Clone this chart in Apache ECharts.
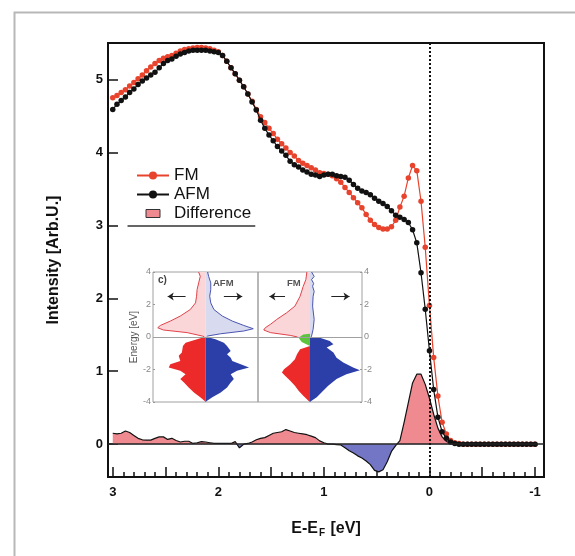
<!DOCTYPE html>
<html>
<head>
<meta charset="utf-8">
<script src="https://cdn.jsdelivr.net/npm/echarts@6/dist/echarts.min.js"></script>
<style>
  html, body { margin: 0; background: #fff; }
  #chart { width: 575px; height: 556px; }
</style>
</head>
<body>
<div id="chart"></div>
<script>
const FONT = '"Liberation Sans", Arial, sans-serif';

// main panel: E - EF [eV] (reversed axis) and intensities
const energies = [
  3.00, 2.96, 2.92, 2.88, 2.84, 2.80, 2.76, 2.72, 2.68, 2.64,
  2.60, 2.56, 2.52, 2.48, 2.44, 2.40, 2.36, 2.32, 2.28, 2.24,
  2.20, 2.16, 2.12, 2.08, 2.04, 2.00, 1.96, 1.92, 1.88, 1.84,
  1.80, 1.76, 1.72, 1.68, 1.64, 1.60, 1.56, 1.52, 1.48, 1.44,
  1.40, 1.36, 1.32, 1.28, 1.24, 1.20, 1.16, 1.12, 1.08, 1.04,
  1.00, 0.96, 0.92, 0.88, 0.84, 0.80, 0.76, 0.72, 0.68, 0.64,
  0.60, 0.56, 0.52, 0.48, 0.44, 0.40, 0.36, 0.32, 0.28, 0.24,
  0.20, 0.16, 0.12, 0.08, 0.04, 0.00, -0.04, -0.08, -0.12, -0.16,
  -0.20, -0.24, -0.28, -0.32, -0.36, -0.40, -0.44, -0.48, -0.52, -0.56,
  -0.60, -0.64, -0.68, -0.72, -0.76, -0.80, -0.84, -0.88, -0.92, -0.96,
  -1.00,
];

const fmValues = [
  4.75, 4.78, 4.82, 4.86, 4.91, 4.96, 5.01, 5.06, 5.12, 5.17,
  5.22, 5.26, 5.29, 5.31, 5.33, 5.36, 5.39, 5.41, 5.42, 5.43,
  5.44, 5.44, 5.43, 5.42, 5.40, 5.38, 5.33, 5.25, 5.16, 5.08,
  4.99, 4.90, 4.80, 4.70, 4.59, 4.49, 4.41, 4.33, 4.26, 4.18,
  4.12, 4.06, 4.00, 3.95, 3.89, 3.85, 3.82, 3.79, 3.76, 3.72,
  3.71, 3.70, 3.68, 3.64, 3.59, 3.52, 3.45, 3.38, 3.31, 3.24,
  3.15, 3.07, 3.01, 2.97, 2.95, 2.95, 2.98, 3.07, 3.25, 3.40,
  3.65, 3.82, 3.75, 3.33, 2.70, 1.90, 1.19, 0.66, 0.30, 0.14,
  0.05, 0.02, 0.01, 0, 0, 0, 0, 0, 0, 0,
  0, 0, 0, 0, 0, 0, 0, 0, 0, 0,
  0,
];

const afmValues = [
  4.59, 4.66, 4.71, 4.76, 4.82, 4.87, 4.93, 4.98, 5.02, 5.06,
  5.10, 5.16, 5.22, 5.26, 5.28, 5.32, 5.35, 5.37, 5.39, 5.40,
  5.40, 5.40, 5.40, 5.39, 5.38, 5.37, 5.33, 5.25, 5.16, 5.08,
  4.99, 4.90, 4.80, 4.69, 4.58, 4.44, 4.33, 4.24, 4.16, 4.08,
  4.02, 3.96, 3.88, 3.83, 3.80, 3.76, 3.73, 3.70, 3.69, 3.67,
  3.69, 3.70, 3.70, 3.68, 3.67, 3.66, 3.62, 3.56, 3.51, 3.47,
  3.45, 3.42, 3.37, 3.33, 3.30, 3.26, 3.20, 3.14, 3.11, 3.08,
  3.04, 2.94, 2.76, 2.35, 1.85, 1.28, 0.75, 0.37, 0.17, 0.08,
  0.03, 0.01, 0, 0, 0, 0, 0, 0, 0, 0,
  0, 0, 0, 0, 0, 0, 0, 0, 0, 0,
  0,
];

const diffValues = [
  0.15, 0.14, 0.15, 0.18, 0.16, 0.12, 0.08, 0.06, 0.055, 0.055,
  0.08, 0.10, 0.10, 0.065, 0.08, 0.05, 0.03, 0.04, 0.04, 0.01,
  0.02, 0.035, 0.03, 0.02, 0.01, 0.01, 0.01, 0.01, 0.01, 0.035,
  -0.05, 0.0, 0.01, 0.03, 0.06, 0.08, 0.09, 0.12, 0.15, 0.16,
  0.17, 0.20, 0.18, 0.16, 0.15, 0.14, 0.13, 0.11, 0.09, 0.045,
  0.02, 0.0, 0.0, -0.005, -0.01, -0.05, -0.09, -0.12, -0.16, -0.19,
  -0.23, -0.28, -0.36, -0.38, -0.35, -0.24, -0.10, -0.02, 0.05, 0.30,
  0.57, 0.84, 0.96, 0.96, 0.82, 0.63, 0.41, 0.22, 0.10, 0.04,
  0.01, 0, 0, 0, 0, 0, 0, 0, 0, 0,
  0, 0, 0, 0, 0, 0, 0, 0, 0, 0,
  0,
];

const xLabels = [-1, 0, 1, 2, 3];
const xMajorTicks = [-1, -0.5, 0, 0.5, 1, 1.5, 2, 2.5, 3];
const xMinorTicks = [
  -1.0, -0.9, -0.8, -0.7, -0.6, -0.5, -0.4, -0.3, -0.2, -0.1,
  0.0, 0.1, 0.2, 0.3, 0.4, 0.5, 0.6, 0.7, 0.8, 0.9,
  1.0, 1.1, 1.2, 1.3, 1.4, 1.5, 1.6, 1.7, 1.8, 1.9,
  2.0, 2.1, 2.2, 2.3, 2.4, 2.5, 2.6, 2.7, 2.8, 2.9, 3.0,
];
const yTicks = [0, 1, 2, 3, 4, 5];

// inset: DOS [value, energy]; negative = spin left (red), positive = right (blue)
const afmUpRed = [[-0.13, 4.0], [-0.10, 3.73], [-0.13, 3.33], [-0.16, 2.92], [-0.17, 2.51], [-0.19, 2.10],
  [-0.29, 1.69], [-0.48, 1.29], [-0.67, 0.98], [-0.86, 0.71], [-0.91, 0.57], [-0.80, 0.43],
  [-0.35, 0.27], [-0.06, 0.06], [-0.02, 0.0]];
const afmUpBlue = [[0.04, 4.0], [0.06, 3.73], [0.10, 3.33], [0.10, 2.92], [0.08, 2.51], [0.10, 2.10],
  [0.16, 1.69], [0.32, 1.29], [0.51, 0.98], [0.73, 0.71], [0.91, 0.51], [0.73, 0.37],
  [0.29, 0.20], [0.04, 0.06], [0.02, 0.0]];
const afmDownRed = [[-0.02, 0.0], [-0.16, -0.14], [-0.38, -0.35], [-0.43, -0.55], [-0.45, -0.96],
  [-0.51, -1.16], [-0.48, -1.47], [-0.67, -1.67], [-0.70, -1.88], [-0.48, -2.08], [-0.38, -2.29],
  [-0.48, -2.59], [-0.41, -2.80], [-0.32, -3.10], [-0.22, -3.41], [-0.10, -3.71], [-0.02, -3.92], [0, -4.0]];
const afmDownBlue = [[0.03, 0.0], [0.19, -0.14], [0.35, -0.35], [0.41, -0.55], [0.48, -0.86],
  [0.41, -1.06], [0.48, -1.27], [0.51, -1.47], [0.67, -1.67], [0.83, -1.88], [0.60, -2.08],
  [0.48, -2.29], [0.54, -2.59], [0.48, -2.80], [0.41, -3.10], [0.29, -3.41], [0.13, -3.71], [0.03, -3.92], [0, -4.0]];
const fmUpRed = [[-0.06, 4.0], [-0.08, 3.53], [-0.13, 3.12], [-0.19, 2.51], [-0.29, 1.90], [-0.45, 1.49],
  [-0.64, 1.08], [-0.76, 0.78], [-0.86, 0.57], [-0.89, 0.43], [-0.76, 0.27], [-0.38, 0.10], [-0.24, 0.0]];
const fmUpBlue = [[0.03, 4.0], [0.08, 3.73], [0.03, 3.53], [0.07, 3.3], [0.05, 3.12], [0.08, 2.8],
  [0.06, 2.51], [0.05, 1.90], [0.08, 1.08], [0.06, 0.47], [0.03, 0.06], [0.02, 0.0]];
const fmGreen = [[0, 0.20], [-0.13, 0.16], [-0.22, -0.04], [-0.16, -0.31], [0, -0.55]];
const fmDownRed = [[0, -0.55], [-0.19, -0.76], [-0.25, -1.06], [-0.29, -1.37], [-0.38, -1.67],
  [-0.50, -1.98], [-0.54, -2.18], [-0.48, -2.39], [-0.38, -2.69], [-0.29, -3.0], [-0.22, -3.31],
  [-0.13, -3.61], [-0.03, -3.92], [0, -4.0]];
const fmDownBlue = [[0, 0.0], [0.19, -0.04], [0.38, -0.24], [0.45, -0.45], [0.32, -0.65], [0.45, -0.96],
  [0.51, -1.27], [0.64, -1.57], [0.83, -1.88], [0.96, -2.04], [0.70, -2.29], [0.51, -2.59],
  [0.35, -3.0], [0.22, -3.41], [0.13, -3.71], [0.03, -3.92], [0, -4.0]];

const toPairs = (values) => energies.map((e, i) => [e, values[i]]);

const dosSeries = (panel, points, fill, stroke) => ({
  type: 'custom',
  coordinateSystem: 'cartesian2d',
  xAxisIndex: panel + 2,
  yAxisIndex: panel + 1,
  silent: true,
  z: 3,
  data: [[0, 0]],
  renderItem: (params, api) => {
    const curve = points.map((p) => api.coord(p));
    const outline = [api.coord([0, points[0][1]]), ...curve, api.coord([0, points[points.length - 1][1]])];
    const children = [{ type: 'polygon', shape: { points: outline }, style: { fill: fill } }];
    if (stroke) {
      children.push({ type: 'polyline', shape: { points: curve }, style: { stroke: stroke, lineWidth: 1, fill: 'none' } });
    }
    return { type: 'group', children: children };
  },
});

const insetHelpers = (panel, arrows) => [
  {
    type: 'line', xAxisIndex: panel + 2, yAxisIndex: panel + 1, data: [], silent: true, z: 4,
    markLine: {
      silent: true, symbol: 'none', label: { show: false },
      lineStyle: { color: '#a0a0a0', width: 1, type: 'solid' },
      data: [{ yAxis: 0 }],
    },
  },
  {
    type: 'line', xAxisIndex: panel + 2, yAxisIndex: panel + 1, data: [], silent: true, z: 4,
    markLine: {
      silent: true, symbol: ['none', 'arrow'], symbolSize: 6, label: { show: false },
      lineStyle: { color: '#222', width: 1, type: 'solid' },
      data: arrows.map(([a, b]) => [{ coord: [a, 2.5] }, { coord: [b, 2.5] }]),
    },
  },
];

const insetY = (grid, position) => ({
  type: 'value', gridIndex: grid, min: -4, max: 4, interval: 2, position: position,
  axisLine: { show: false, onZero: false }, splitLine: { show: false },
  axisTick: { show: true, inside: true, length: 2, lineStyle: { color: '#999' } },
  axisLabel: { fontFamily: FONT, fontSize: 9, color: '#888', margin: 2 },
});

const chart = echarts.init(document.getElementById('chart'));
chart.setOption({
  animation: false,
  backgroundColor: '#fff',
  graphic: [
    { type: 'rect', left: 12, top: 10, shape: { width: 620, height: 600 }, style: { fill: 'none', stroke: '#b8b8b8', lineWidth: 2 }, silent: true, z: -10 },
    { type: 'text', left: 158, top: 275, style: { text: 'c)', font: `bold 10px ${FONT}`, fill: '#444' }, silent: true, z: 10 },
    { type: 'text', left: 213, top: 278, style: { text: 'AFM', font: `bold 9.5px ${FONT}`, fill: '#555' }, silent: true, z: 10 },
    { type: 'text', left: 287, top: 278, style: { text: 'FM', font: `bold 9.5px ${FONT}`, fill: '#555' }, silent: true, z: 10 },
  ],
  legend: {
    left: 131, top: 162, orient: 'vertical', itemWidth: 32, itemHeight: 10, itemGap: 2,
    selectedMode: false,
    textStyle: { fontFamily: FONT, fontSize: 17, color: '#111' },
    data: [
      { name: 'FM' },
      { name: 'AFM' },
      { name: 'Difference', icon: 'path://M0,0M32,10M9,1h14v8h-14z', itemStyle: { color: '#ef8a90', borderColor: '#333', borderWidth: 1 } },
    ],
  },
  visualMap: {
    show: false, type: 'piecewise', seriesIndex: 0, dimension: 1,
    pieces: [{ gte: -1, lt: 0, color: '#7376c4' }, { gte: 0, lte: 2, color: '#ef8a90' }],
    outOfRange: { color: '#ef8a90' },
  },
  grid: [
    { left: 108, top: 43, right: 31, bottom: 79, show: true, borderColor: '#111', borderWidth: 2 },
    { left: 153, top: 272, width: 105, height: 130, show: true, borderColor: '#a0a0a0', borderWidth: 1 },
    { left: 258, top: 272, width: 104, height: 130, show: true, borderColor: '#a0a0a0', borderWidth: 1 },
  ],
  xAxis: [
    {
      type: 'value', gridIndex: 0, min: -1.085, max: 3.045, inverse: true, position: 'bottom',
      axisLine: { show: false, onZero: false }, splitLine: { show: false },
      axisTick: { inside: true, length: 10, customValues: xMajorTicks, lineStyle: { color: '#111', width: 1.5 } },
      axisLabel: { customValues: xLabels, fontFamily: FONT, fontWeight: 'bold', fontSize: 13, color: '#111', margin: 9 },
      name: '{a|E-E}{s|F}{a| [eV]}', nameLocation: 'middle', nameGap: 43,
      nameTextStyle: {
        rich: {
          a: { fontFamily: FONT, fontSize: 16, fontWeight: 'bold', color: '#111' },
          s: { fontFamily: FONT, fontSize: 10, fontWeight: 'bold', color: '#111', padding: [8, 1, 0, 1] },
        },
      },
    },
    {
      type: 'value', gridIndex: 0, min: -1.085, max: 3.045, inverse: true, position: 'bottom',
      axisLine: { show: false, onZero: false }, splitLine: { show: false }, axisLabel: { show: false },
      axisTick: { inside: true, length: 5, customValues: xMinorTicks, lineStyle: { color: '#111', width: 1.5 } },
    },
    { type: 'value', gridIndex: 1, min: -1, max: 1, show: false },
    { type: 'value', gridIndex: 2, min: -1, max: 1, show: false },
  ],
  yAxis: [
    {
      type: 'value', gridIndex: 0, min: -0.45, max: 5.5,
      axisLine: { show: false, onZero: false }, splitLine: { show: false },
      axisTick: { inside: true, length: 10, customValues: yTicks, lineStyle: { color: '#111', width: 1.5 } },
      axisLabel: { customValues: yTicks, fontFamily: FONT, fontWeight: 'bold', fontSize: 13, color: '#111', margin: 5 },
      name: 'Intensity [Arb.U.]', nameLocation: 'middle', nameGap: 46,
      nameTextStyle: { fontFamily: FONT, fontSize: 16, fontWeight: 'bold', color: '#111' },
    },
    Object.assign(insetY(1, 'left'), {
      name: 'Energy [eV]', nameLocation: 'middle', nameGap: 12,
      nameTextStyle: { fontFamily: FONT, fontSize: 10, color: '#555' },
    }),
    insetY(2, 'right'),
  ],
  series: [
    {
      name: 'Difference', type: 'line', xAxisIndex: 0, yAxisIndex: 0,
      data: toPairs(diffValues), showSymbol: false, z: 1,
      lineStyle: { color: '#111', width: 1.2 },
      areaStyle: { opacity: 1 },
      markLine: {
        silent: true, symbol: 'none', label: { show: false },
        data: [
          { yAxis: 0, lineStyle: { color: '#222', width: 1.5, type: 'solid' } },
          { xAxis: 0, lineStyle: { color: '#111', width: 2, type: 'dotted' } },
          [{ coord: [2.86, 3], lineStyle: { color: '#333', width: 1.5, type: 'solid' } }, { coord: [1.65, 3] }],
        ],
      },
    },
    {
      name: 'FM', type: 'line', xAxisIndex: 0, yAxisIndex: 0,
      data: toPairs(fmValues), symbol: 'circle', symbolSize: 5.5, z: 3,
      itemStyle: { color: '#e8432c' }, lineStyle: { color: '#e8432c', width: 1.2 },
    },
    {
      name: 'AFM', type: 'line', xAxisIndex: 0, yAxisIndex: 0,
      data: toPairs(afmValues), symbol: 'circle', symbolSize: 5.5, z: 4,
      itemStyle: { color: '#111' }, lineStyle: { color: '#111', width: 1.2 },
    },
    dosSeries(0, afmUpRed, '#fad6d9', '#e0434a'),
    dosSeries(0, afmUpBlue, '#d8dbef', '#4a55b0'),
    dosSeries(0, afmDownRed, '#ec2a2a', null),
    dosSeries(0, afmDownBlue, '#2c3fa8', null),
    dosSeries(1, fmUpRed, '#fad6d9', '#e0434a'),
    dosSeries(1, fmUpBlue, '#d8dbef', '#4a55b0'),
    dosSeries(1, fmGreen, '#5cc43c', null),
    dosSeries(1, fmDownRed, '#ec2a2a', null),
    dosSeries(1, fmDownBlue, '#2c3fa8', null),
    ...insetHelpers(0, [[-0.38, -0.72], [0.35, 0.70]]),
    ...insetHelpers(1, [[-0.48, -0.78], [0.41, 0.76]]),
  ],
});

window.addEventListener('resize', () => chart.resize());
</script>
</body>
</html>
